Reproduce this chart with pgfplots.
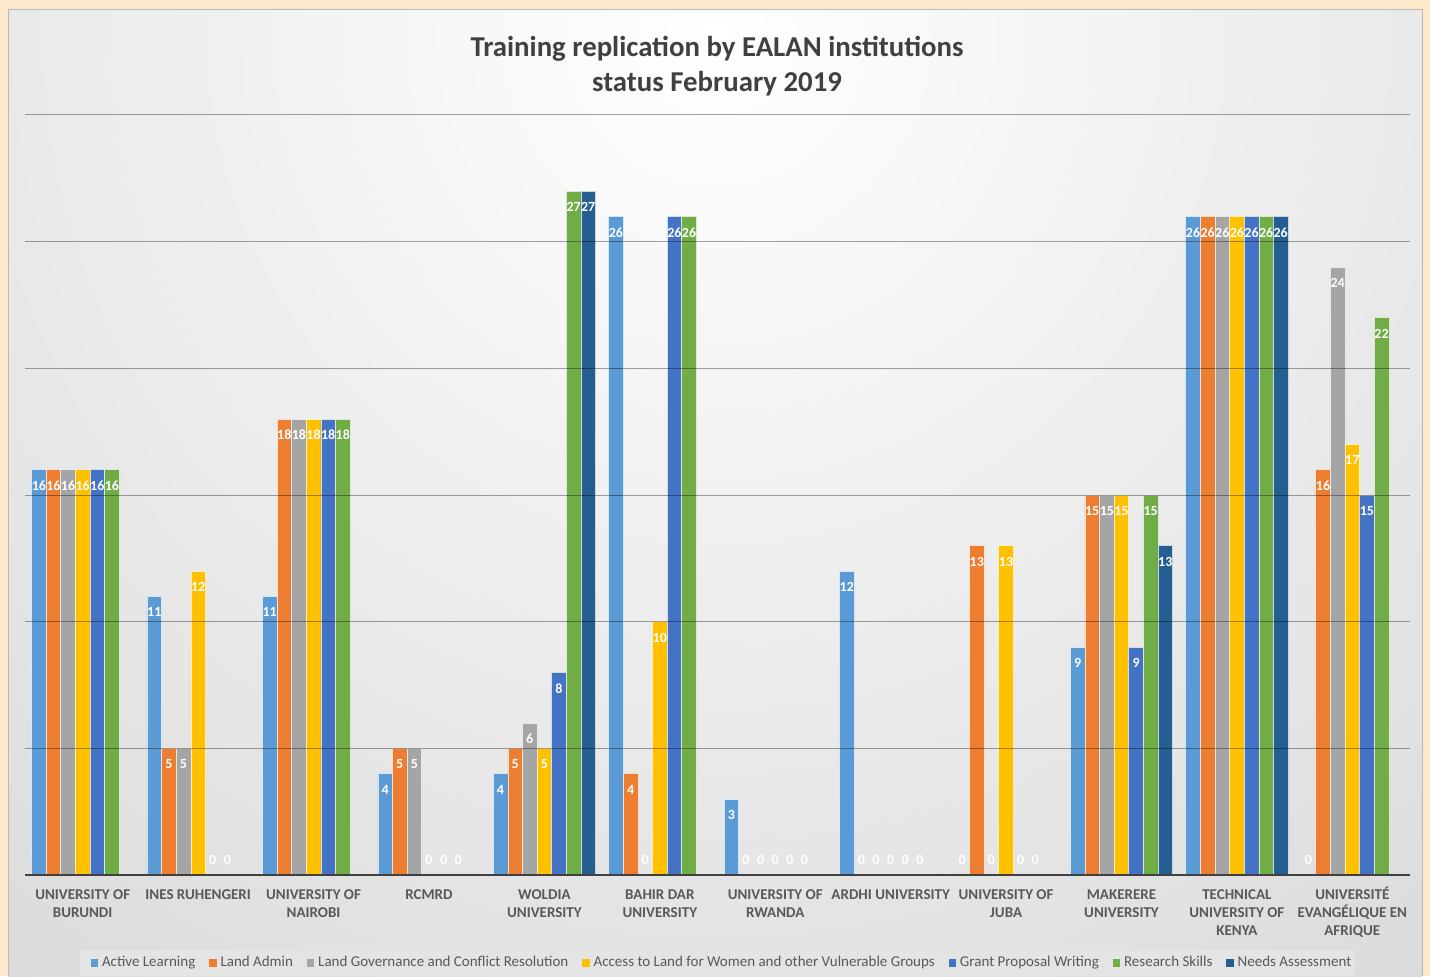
\documentclass[border=0pt]{standalone}
\usepackage{fontspec}
\setmainfont{Carlito}
\usepackage{pgfplots}
\pgfplotsset{compat=1.18}
\definecolor{cAL}{HTML}{5B9BD5}
\definecolor{cLA}{HTML}{ED7D31}
\definecolor{cLG}{HTML}{A5A5A5}
\definecolor{cAC}{HTML}{FFC000}
\definecolor{cGP}{HTML}{4472C4}
\definecolor{cRS}{HTML}{70AD47}
\definecolor{cNA}{HTML}{255E91}
\definecolor{peach}{HTML}{FDE8CC}
\definecolor{titlec}{HTML}{404040}
\definecolor{labc}{HTML}{595959}
\definecolor{bgout}{HTML}{C2C2C2}
\definecolor{legbg}{HTML}{E4E4E4}
\begin{document}
\begin{tikzpicture}
\path[use as bounding box] (0pt,0pt) rectangle (715pt,488pt);
\fill[peach] (0pt,0pt) rectangle (715pt,488pt);
\begin{scope}
\clip (4pt,0pt) rectangle (711pt,483pt);
\shade[inner color=white, outer color=bgout] (358pt,470pt) circle (1000pt);
\end{scope}
\draw[gray!55, line width=0.5pt] (4pt,0pt) -- (4pt,483pt) -- (711pt,483pt) -- (711pt,0pt);
\fill[legbg] (40pt,0pt) rectangle (677.5pt,13pt);
\node[align=center, font=\bfseries\fontsize{14.4}{17.5}\selectfont, text=titlec] at (358.5pt,455pt)
  {Training replication by EALAN institutions\\status February 2019};
\begin{axis}[
  at={(12.5pt,50.5pt)}, anchor=south west,
  scale only axis, width=692.5pt, height=380pt,
  xmin=-0.5, xmax=11.5, ymin=0, ymax=30,
  enlargelimits=false, clip=false,
  ybar=0pt, bar width=0.1266,
  axis on top,
  axis lines*=left,
  x axis line style={draw=black!75, line width=1pt},
  y axis line style={draw=none},
  tick style={draw=none}, major tick length=0pt,
  ytick={5,10,15,20,25,30}, yticklabels={},
  ymajorgrids, grid style={black, opacity=0.36, line width=0.5pt},
  xtick={0,...,11},
  xticklabels={UNIVERSITY OF\\BURUNDI, INES RUHENGERI, UNIVERSITY OF\\NAIROBI, RCMRD, WOLDIA\\UNIVERSITY, BAHIR DAR\\UNIVERSITY, UNIVERSITY OF\\RWANDA, ARDHI UNIVERSITY, UNIVERSITY OF\\JUBA, MAKERERE\\UNIVERSITY, TECHNICAL\\UNIVERSITY OF\\KENYA, UNIVERSIT\smash{É}\\EVANGÉLIQUE EN\\AFRIQUE},
  xticklabel style={align=center, font=\bfseries\fontsize{7.5}{9}\selectfont, text=labc, yshift=-4pt},
  visualization depends on={rawy \as \rawy},
  nodes near coords={\pgfmathprintnumber[assume math mode=true]{\pgfplotspointmeta}},
  every node near coord/.append style={font=\bfseries\fontsize{7}{7}\selectfont, text=white, anchor=center, yshift={ifthenelse(\rawy==0,7.5,-8)}},
  legend columns=-1,
  legend style={draw=none, fill=none, at={(0.504,-0.1158)}, anchor=center,
    font=\fontsize{7.5}{9}\selectfont, text=labc,
    /tikz/every even column/.append style={column sep=5pt}},
  legend image code/.code={\path[#1, draw=none] (0pt,-1.8pt) rectangle (3.6pt,1.8pt);},
]
\addplot[fill=cAL, draw=white!75!cAL, line width=0.3pt] coordinates {(0,16) (1,11) (2,11) (3,4) (4,4) (5,26) (6,3) (7,12) (8,0) (9,9) (10,26) (11,0)};
\addplot[fill=cLA, draw=white!75!cLA, line width=0.3pt] coordinates {(0,16) (1,5) (2,18) (3,5) (4,5) (5,4) (6,0) (7,0) (8,13) (9,15) (10,26) (11,16)};
\addplot[fill=cLG, draw=white!75!cLG, line width=0.3pt] coordinates {(0,16) (1,5) (2,18) (3,5) (4,6) (5,0) (6,0) (7,0) (8,0) (9,15) (10,26) (11,24)};
\addplot[fill=cAC, draw=white!75!cAC, line width=0.3pt] coordinates {(0,16) (1,12) (2,18) (3,0) (4,5) (5,10) (6,0) (7,0) (8,13) (9,15) (10,26) (11,17)};
\addplot[fill=cGP, draw=white!75!cGP, line width=0.3pt] coordinates {(0,16) (1,0) (2,18) (3,0) (4,8) (5,26) (6,0) (7,0) (8,0) (9,9) (10,26) (11,15)};
\addplot[fill=cRS, draw=white!75!cRS, line width=0.3pt] coordinates {(0,16) (1,0) (2,18) (3,0) (4,27) (5,26) (6,0) (7,0) (8,0) (9,15) (10,26) (11,22)};
\addplot[fill=cNA, draw=white!75!cNA, line width=0.3pt] coordinates {(4,27) (9,13) (10,26)};
\legend{Active Learning, Land Admin, Land Governance and Conflict Resolution, Access to Land for Women and other Vulnerable Groups, Grant Proposal Writing, Research Skills, Needs Assessment}
\end{axis}
\end{tikzpicture}
\end{document}
